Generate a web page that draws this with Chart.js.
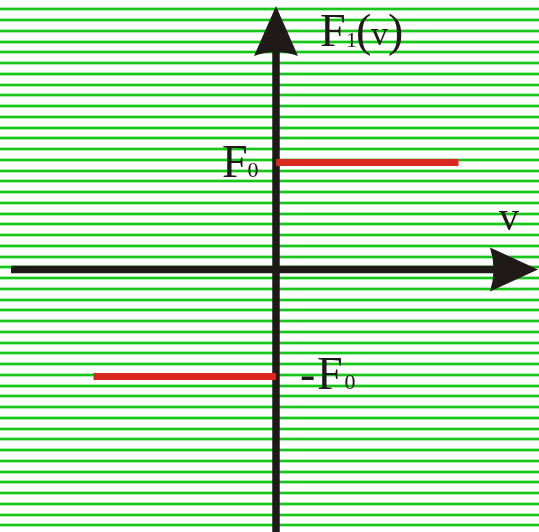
<!DOCTYPE html>
<html>
<head>
<meta charset="utf-8">
<title>F1(v)</title>
<script src="https://cdn.jsdelivr.net/npm/chart.js@4"></script>
<style>
  html, body { margin: 0; padding: 0; background: #ffffff; }
  #wrap { width: 539px; height: 532px; }
</style>
</head>
<body>
<div id="wrap"><canvas id="chart" width="539" height="532"></canvas></div>
<script>
// Dry-friction force law: F1(v) = F0 for v > 0, -F0 for v < 0
const F0 = 1;
const velocityBranches = [[-1, 0], [0, 1]];   // v intervals of each branch
const forceLevels = [-F0, F0];               // force on each branch

// Visible window of the plot, in data units
const vRange = [-1.5123, 1.4411];
const fRange = [-2.4533, 2.5187];
// Axis lines (arrow tips) in data units
const vAxisSpan = [-1.452, 1.4356];
const fAxisTop = 2.4626;

// Ruled background rows
const rowRange = [-0.8651, 48.623];

const INK = '#1f1a17';
const RED = '#d8281f';
const SERIF = '"Liberation Serif", "Times New Roman", "DejaVu Serif", serif';

const datasets = velocityBranches.map((span, i) => ({
  data: span.map(v => ({ x: v, y: forceLevels[i] })),
  showLine: true,
  borderColor: RED,
  borderWidth: 7,
  borderCapStyle: 'butt',
  pointRadius: 0,
  xAxisID: 'x',
  yAxisID: 'y'
}));

function rowAxis(color, width) {
  return {
    type: 'linear',
    position: 'left',
    reverse: true,
    min: rowRange[0],
    max: rowRange[1],
    ticks: { display: false, stepSize: 1, includeBounds: false },
    grid: { color: color, lineWidth: width, drawTicks: false },
    border: { display: false }
  };
}

// Black coordinate axes with arrowheads, drawn under the red branches
const axesPlugin = {
  id: 'axesArrows',
  beforeDatasetsDraw(chart) {
    const { ctx } = chart;
    const xs = chart.scales.x, ys = chart.scales.y;
    const x0 = xs.getPixelForValue(0);
    const y0 = ys.getPixelForValue(0);
    const xL = xs.getPixelForValue(vAxisSpan[0]);
    const xT = xs.getPixelForValue(vAxisSpan[1]);
    const yT = ys.getPixelForValue(fAxisTop);
    ctx.save();
    ctx.fillStyle = INK;
    ctx.strokeStyle = INK;
    ctx.lineCap = 'butt';

    // horizontal shaft
    ctx.lineWidth = 7.5;
    ctx.beginPath();
    ctx.moveTo(xL, y0);
    ctx.lineTo(xT - 40, y0);
    ctx.stroke();
    // horizontal arrowhead
    ctx.beginPath();
    ctx.moveTo(xT, y0);
    ctx.lineTo(xT - 48, y0 - 22);
    ctx.quadraticCurveTo(xT - 41, y0, xT - 48, y0 + 22);
    ctx.closePath();
    ctx.fill();

    // vertical shaft
    ctx.lineWidth = 7.5;
    ctx.beginPath();
    ctx.moveTo(x0, yT + 42);
    ctx.lineTo(x0, chart.height + 5);
    ctx.stroke();
    // vertical arrowhead
    ctx.beginPath();
    ctx.moveTo(x0, yT);
    ctx.lineTo(x0 - 22, yT + 50);
    ctx.quadraticCurveTo(x0, yT + 42, x0 + 22, yT + 50);
    ctx.closePath();
    ctx.fill();
    ctx.restore();
  },
  afterDatasetsDraw(chart) {
    const { ctx } = chart;
    const xs = chart.scales.x, ys = chart.scales.y;
    const x0 = xs.getPixelForValue(0);
    const y0 = ys.getPixelForValue(0);
    const yTop = ys.getPixelForValue(F0);
    const yBot = ys.getPixelForValue(-F0);
    const yT = ys.getPixelForValue(fAxisTop);
    const xT = xs.getPixelForValue(vAxisSpan[1]);
    ctx.save();
    ctx.fillStyle = INK;
    ctx.textAlign = 'left';
    ctx.textBaseline = 'alphabetic';
    const big = '46px ' + SERIF;
    const sub = '22px ' + SERIF;
    function put(text, font, x, y) { ctx.font = font; ctx.fillText(text, x, y); }

    // F1(v) beside the vertical arrow
    const bx = x0 + 44, by = yT + 40;
    put('F', big, bx, by);
    put('1', sub, bx + 26, by + 1);
    put('(', big, bx + 36, by);
    put('v', '34px ' + SERIF, bx + 51, by - 1);
    put(')', big, bx + 68, by);

    // F0 left of the axis at the upper level
    put('F', big, x0 - 54, yTop + 14.5);
    put('0', sub, x0 - 28.5, yTop + 14.5);

    // -F0 right of the axis at the lower level
    put('-', big, x0 + 24, yBot + 12.5);
    put('F', big, x0 + 41, yBot + 12.5);
    put('0', sub, x0 + 68.5, yBot + 12.5);

    // v above the horizontal arrow
    put('v', '40px ' + SERIF, xT - 39, y0 - 39.5);
    ctx.restore();
  }
};

new Chart(document.getElementById('chart'), {
  type: 'scatter',
  data: { datasets },
  options: {
    responsive: false,
    animation: false,
    devicePixelRatio: 1,
    layout: { padding: 0 },
    plugins: { legend: { display: false }, tooltip: { enabled: false } },
    scales: {
      x: { type: 'linear', display: false, min: vRange[0], max: vRange[1] },
      y: { type: 'linear', display: false, min: fRange[0], max: fRange[1] },
      rowsSoft: rowAxis('#abebab', 4),
      rowsCore: rowAxis('#17c717', 2)
    }
  },
  plugins: [axesPlugin]
});
</script>
</body>
</html>
